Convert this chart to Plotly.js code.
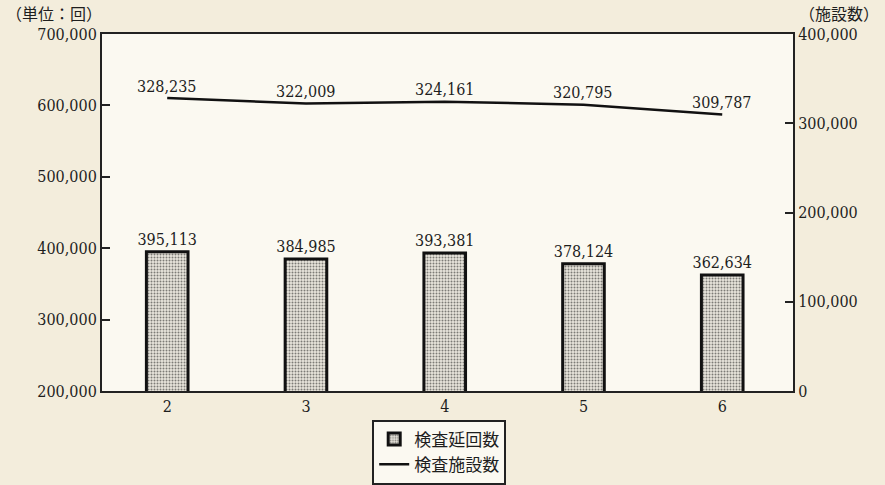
<!DOCTYPE html>
<html>
<head>
<meta charset="utf-8">
<script src="https://cdn.plot.ly/plotly-3.0.1.min.js"></script>
<style>
  html, body { margin: 0; padding: 0; background: #f3eddc; }
  #chart { width: 885px; height: 485px; }
</style>
</head>
<body>
<div id="chart"></div>
<script>
// 年度（平成）
const years = [2, 3, 4, 5, 6];
// 検査延回数（左軸・回）
const inspectionCounts = [395113, 384985, 393381, 378124, 362634];
// 検査施設数（右軸）
const facilityCounts = [328235, 322009, 324161, 320795, 309787];

const leftTicks = [200000, 300000, 400000, 500000, 600000, 700000];
const rightTicks = [0, 100000, 200000, 300000, 400000];

const numFont = "'DejaVu Serif Condensed', 'DejaVu Serif', serif";
const jpFont = "'Noto Sans CJK JP', sans-serif";
const ink = '#1e1e1e';

const fmt = v => v.toLocaleString('en-US');

const bars = {
  type: 'bar',
  name: '検査延回数',
  x: years,
  y: inspectionCounts,
  width: 0.3,
  text: inspectionCounts.map(fmt),
  textposition: 'outside',
  constraintext: 'none',
  textfont: { family: numFont, size: 16, color: ink },
  cliponaxis: false,
  marker: {
    color: '#d6d2c6',
    pattern: { shape: '.', fgcolor: '#7c7b76', bgcolor: '#e9e6dc', size: 3, solidity: 0.35 },
    line: { color: '#111', width: 3 }
  },
  hoverinfo: 'skip'
};

const line = {
  type: 'scatter',
  mode: 'lines',
  name: '検査施設数',
  x: years,
  y: facilityCounts,
  yaxis: 'y2',
  line: { color: '#111', width: 2.5 },
  cliponaxis: false,
  hoverinfo: 'skip'
};

// value labels above each point of the facility line
const lineLabels = years.map((yr, i) => ({
  xref: 'x', yref: 'y2',
  x: yr, y: facilityCounts[i],
  yshift: 12, yanchor: 'middle',
  text: fmt(facilityCounts[i]),
  showarrow: false,
  font: { family: numFont, size: 16, color: ink }
}));

const layout = {
  width: 885,
  height: 485,
  margin: { l: 102, r: 92, t: 34, b: 94, autoexpand: false },
  paper_bgcolor: '#f3eddc',
  plot_bgcolor: '#fbf9f1',
  font: { family: numFont, size: 16, color: ink },
  showlegend: true,
  legend: {
    x: 0.488, xanchor: 'center',
    y: -0.08, yanchor: 'top',
    bgcolor: '#fbf9f1',
    bordercolor: '#222', borderwidth: 2,
    font: { family: jpFont, size: 17, color: ink },
    traceorder: 'normal',
    itemwidth: 30,
    tracegroupgap: 0
  },
  xaxis: {
    range: [1.53, 6.51],
    tickvals: years,
    ticktext: years.map(String),
    ticks: '',
    showgrid: false,
    zeroline: false,
    showline: true, linecolor: '#222', linewidth: 2,
    mirror: true,
    tickfont: { family: numFont, size: 16, color: ink },
    fixedrange: true
  },
  yaxis: {
    range: [200000, 700000],
    tickvals: leftTicks,
    ticktext: leftTicks.map(fmt),
    ticks: 'inside', ticklen: 8, tickwidth: 2, tickcolor: '#222',
    showgrid: false,
    zeroline: false,
    showline: true, linecolor: '#222', linewidth: 2,
    tickfont: { family: numFont, size: 16, color: ink },
    fixedrange: true
  },
  yaxis2: {
    overlaying: 'y',
    side: 'right',
    range: [0, 400000],
    tickvals: rightTicks,
    ticktext: rightTicks.map(fmt),
    ticks: 'inside', ticklen: 8, tickwidth: 2, tickcolor: '#222',
    showgrid: false,
    zeroline: false,
    showline: true, linecolor: '#222', linewidth: 2,
    tickfont: { family: numFont, size: 16, color: ink },
    fixedrange: true
  },
  annotations: lineLabels.concat([
    {
      xref: 'paper', yref: 'paper', x: -0.142, y: 1.02,
      xanchor: 'left', yanchor: 'bottom',
      text: '（単位：回）', showarrow: false,
      font: { family: jpFont, size: 16, color: ink }
    },
    {
      xref: 'paper', yref: 'paper', x: 1.127, y: 1.02,
      xanchor: 'right', yanchor: 'bottom',
      text: '（施設数）', showarrow: false,
      font: { family: jpFont, size: 16, color: ink }
    }
  ])
};

Plotly.newPlot('chart', [bars, line], layout, { displayModeBar: false, staticPlot: true });
</script>
</body>
</html>
